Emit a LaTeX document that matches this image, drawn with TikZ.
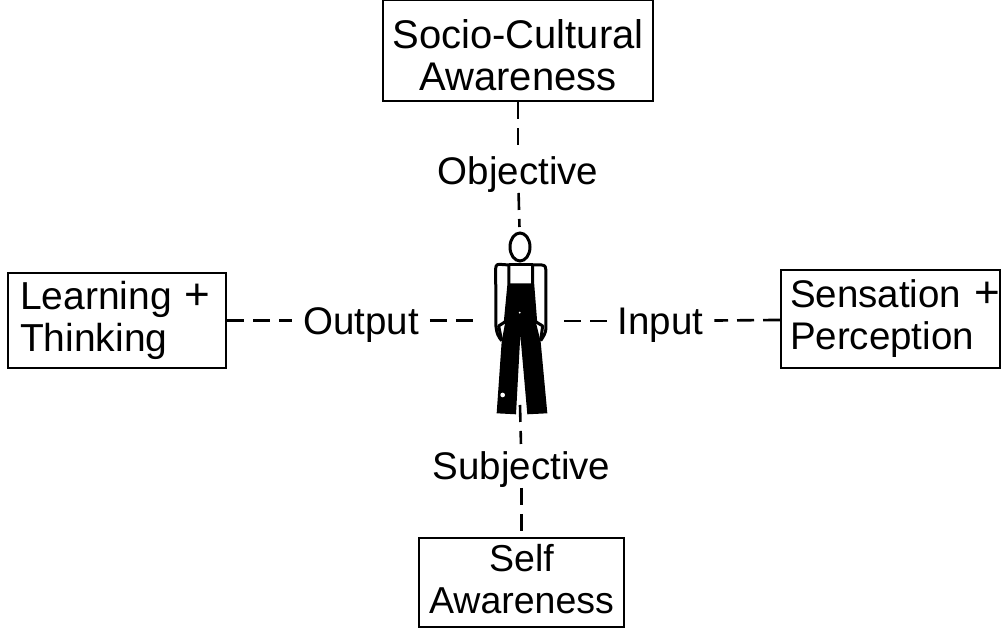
\documentclass[tikz,border=0pt]{standalone}
\usepackage{fontspec}
\setmainfont{Liberation Sans}
\usetikzlibrary{positioning, shapes.geometric}

\newcommand{\plusmark}{{\fontsize{44}{42}\selectfont +}}

\tikzset{
    box/.style={draw, line width=2pt, inner sep=0pt, font=\fontsize{40}{42}\selectfont},
    lbl/.style={inner sep=0pt, outer xsep=11pt, outer ysep=8pt, text height=28pt, text depth=0pt, font=\fontsize{38.5}{42}\selectfont},
    link/.style={line width=2.6pt, dash pattern=on 17pt off 9pt},
    body/.style={line width=3pt, line join=round},
}

\begin{document}
\begin{tikzpicture}[x=1pt, y=1pt, node distance=2cm, on grid]
    \useasboundingbox (0,0) rectangle (1002,628);

    % Boxes
    \node[box, minimum width=270pt, minimum height=101pt, align=center] (socio) at (518,577) {\rule{0pt}{37pt}Socio-Cultural\\Awareness};
    \node[box, font=\fontsize{39}{42}\selectfont, minimum width=218pt, minimum height=95pt, text width=194pt, align=left] (learning) at (117,307.5) {Learning \plusmark\\Thinking};
    \node[box, font=\fontsize{38.5}{42}\selectfont, minimum width=219pt, minimum height=98pt, text width=201pt, align=left] (sensation) at (890.5,309) {Sensation \rlap{\plusmark}\\Perception};
    \node[box, font=\fontsize{37.5}{42}\selectfont, minimum width=205pt, minimum height=89pt, align=center] (self) at (521.5,45.5) {Self\\\rule[-8pt]{0pt}{8pt}Awareness};

    % Labels
    \node[lbl] (objective) [below=120pt of socio] {Objective};
    \node[lbl] (output) [right=244pt of learning] {Output};
    \node[lbl] (input) [left=230pt of sensation, yshift=-2pt] {Input};
    \node[lbl] (subjective) [above=116.5pt of self] {Subjective};

    % Figure
    \node[ellipse, draw, line width=3pt, inner sep=0pt, minimum width=20pt, minimum height=28pt, outer sep=6pt] (head) at (520,381) {};
    \coordinate (handl) at (473,307.5);
    \coordinate (handr) at (563,307);
    \coordinate (feet) at (520,223);
    \begin{scope}[shift={(440,428)}, x=0.3333pt, y=-0.3333pt]
        \fill (210,250) -- (275,250) -- (287,365) -- (302,425) -- (322,640) -- (262,643) -- (241,405) -- (228,643) -- (170,640) -- (185,425) -- (196,365) -- cycle;
        \draw[body] (207,195) -- (178,193) .. controls (168,193) and (167,200) .. (167,210) -- (168,380) .. controls (170,400) and (175,410) .. (185,422);
        \draw[body] (278,195) -- (305,195) .. controls (317,195) and (318,205) .. (318,212) -- (318,385) .. controls (317,400) and (310,410) .. (302,422);
        \draw[body] (207,195) -- (207,250) -- (196,365) -- (176,378) -- (185,422);
        \draw[body] (278,195) -- (278,250) -- (287,365) -- (308,378) -- (302,422);
        \draw[body] (207,195) -- (278,195);
        \fill[white] (188,585) circle (7);
        \fill[white] (239,338) circle (3);
    \end{scope}

    % Connectors
    \path[link]
    (socio) edge (objective)
    (objective) edge (head)
    (learning) edge (output)
    (output) edge (handl)
    (sensation) edge (input)
    (input) edge (handr)
    (feet) edge (subjective)
    (subjective) edge (self)
    ;
\end{tikzpicture}
\end{document}
